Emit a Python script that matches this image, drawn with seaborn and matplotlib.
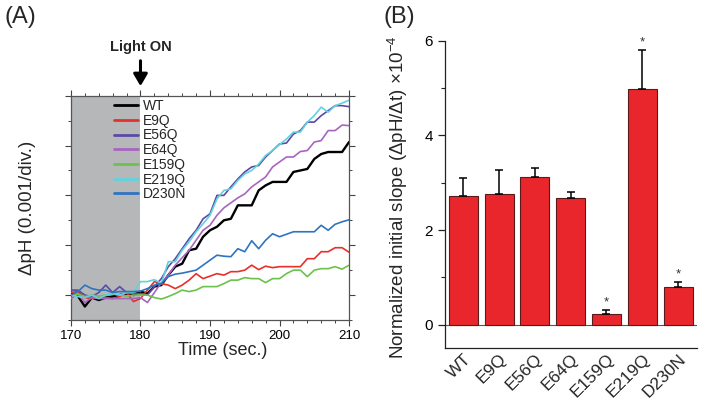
import numpy as np
import pandas as pd
import matplotlib
matplotlib.use("Agg")
import matplotlib.pyplot as plt
from matplotlib.ticker import MultipleLocator
import seaborn as sns

# ---------------- data ----------------
time_s = list(range(170, 211))

wt = [0.05, -0.02, -0.23, -0.05, -0.10, -0.05, -0.03, 0.00, 0.03, 0.00,
      0.07, 0.03, 0.17, 0.20, 0.40, 0.57, 0.63, 0.90, 0.93, 1.17,
      1.30, 1.37, 1.50, 1.53, 1.80, 1.80, 1.80, 2.10, 2.20, 2.27,
      2.27, 2.27, 2.47, 2.50, 2.53, 2.73, 2.83, 2.87, 2.87, 2.87, 3.07]
e9q = [0.05, 0.07, -0.05, -0.07, -0.05, -0.05, -0.07, -0.03, 0.05, -0.13,
       -0.07, 0.10, 0.27, 0.23, 0.20, 0.13, 0.20, 0.30, 0.43, 0.33,
       0.38, 0.43, 0.40, 0.47, 0.47, 0.50, 0.60, 0.51, 0.58, 0.55,
       0.57, 0.57, 0.57, 0.57, 0.73, 0.73, 0.87, 0.87, 0.95, 0.95, 0.86]
e56q = [0.10, 0.10, 0.00, -0.03, 0.05, 0.20, 0.05, 0.17, 0.05, 0.03,
        0.03, 0.00, 0.17, 0.33, 0.57, 0.73, 0.93, 1.13, 1.30, 1.53,
        1.63, 2.00, 2.00, 2.17, 2.33, 2.47, 2.57, 2.60, 2.77, 2.90,
        3.03, 3.05, 3.23, 3.30, 3.47, 3.47, 3.60, 3.70, 3.80, 3.80, 3.78]
e64q = [-0.07, 0.02, -0.15, -0.05, -0.07, -0.07, -0.07, -0.07, -0.07, -0.07,
        -0.05, -0.15, 0.05, 0.25, 0.40, 0.60, 0.75, 0.90, 1.10, 1.30,
        1.40, 1.60, 1.75, 1.85, 1.95, 2.03, 2.17, 2.27, 2.37, 2.57,
        2.67, 2.77, 2.77, 2.88, 2.90, 3.07, 3.10, 3.30, 3.30, 3.41, 3.40]
e159q = [0.00, 0.02, -0.03, 0.00, -0.02, 0.00, 0.02, 0.00, -0.02, 0.00,
         0.00, 0.00, -0.05, -0.08, -0.03, 0.03, 0.10, 0.07, 0.10, 0.17,
         0.17, 0.17, 0.23, 0.30, 0.30, 0.35, 0.33, 0.33, 0.25, 0.33,
         0.33, 0.43, 0.50, 0.50, 0.37, 0.50, 0.53, 0.53, 0.57, 0.52, 0.60]
e219q = [0.00, -0.03, -0.05, 0.00, -0.07, 0.00, 0.03, 0.00, 0.05, 0.05,
         0.27, 0.27, 0.31, 0.23, 0.67, 0.67, 0.90, 1.07, 1.27, 1.43,
         1.60, 1.93, 2.10, 2.13, 2.30, 2.43, 2.50, 2.63, 2.80, 2.90,
         3.02, 3.13, 3.27, 3.27, 3.47, 3.60, 3.77, 3.67, 3.80, 3.85, 3.91]
d230n = [0.00, 0.07, 0.20, 0.13, 0.10, 0.10, 0.05, 0.07, 0.07, 0.07,
         0.08, 0.13, 0.20, 0.23, 0.37, 0.42, 0.44, 0.47, 0.50, 0.60,
         0.70, 0.80, 0.78, 0.77, 0.93, 0.87, 1.09, 0.93, 1.10, 1.23,
         1.17, 1.22, 1.27, 1.27, 1.27, 1.27, 1.40, 1.30, 1.42, 1.47, 1.51]

series_names = ["WT", "E9Q", "E56Q", "E64Q", "E159Q", "E219Q", "D230N"]
series_values = [wt, e9q, e56q, e64q, e159q, e219q, d230n]
line_colors = ["#000000", "#e8302a", "#5a4aa6", "#a865c0", "#6cc24a", "#62d2de", "#2f74c0"]

mutants = ["WT", "E9Q", "E56Q", "E64Q", "E159Q", "E219Q", "D230N"]
slopes = [2.71, 2.76, 3.13, 2.67, 0.23, 4.99, 0.80]
slope_err = [0.38, 0.50, 0.18, 0.13, 0.09, 0.81, 0.11]
significant = [False, False, False, False, True, True, True]

# ---------------- style ----------------
sns.set_theme(style="white")
plt.rcParams["font.family"] = ["Liberation Sans", "DejaVu Sans"]
plt.rcParams["mathtext.fontset"] = "custom"
plt.rcParams["mathtext.rm"] = "Liberation Sans"

fig = plt.figure(figsize=(7.02, 4.00), dpi=100)
axA = fig.add_axes([0.1011, 0.200, 0.3961, 0.5608])
axB = fig.add_axes([0.6339, 0.1292, 0.3590, 0.7690])

# ---------------- panel A ----------------
rows = []
for name, vals in zip(series_names, series_values):
    for t, v in zip(time_s, vals):
        rows.append((t, v, name))
dfA = pd.DataFrame(rows, columns=["time", "dph", "mutant"])

axA.axvspan(170, 180, color="#b6b7b9", lw=0, zorder=0)
sns.lineplot(data=dfA, x="time", y="dph", hue="mutant", hue_order=series_names,
             palette=line_colors, size="mutant", sizes={n: (1.7 if n == "WT" else 1.2) for n in series_names},
             ax=axA, legend="brief", zorder=3)
axA.set_xlim(170, 210)
axA.set_ylim(-0.5, 4.0)
axA.xaxis.set_major_locator(MultipleLocator(10))
axA.xaxis.set_minor_locator(MultipleLocator(2))
axA.yaxis.set_major_locator(MultipleLocator(1))
axA.yaxis.set_minor_locator(MultipleLocator(0.5))
axA.tick_params(which="both", direction="out", top=True, right=True, bottom=True, left=True,
                labelleft=False, labeltop=False, labelright=False, colors="#444444")
axA.tick_params(which="major", length=4, width=0.8, labelsize=9.5, labelcolor="black", pad=3)
axA.tick_params(which="minor", length=2.5, width=0.7)
for sp in axA.spines.values():
    sp.set_visible(True)
    sp.set_color("#555555")
    sp.set_linewidth(0.9)
axA.set_xlabel("Time (sec.)", fontsize=13)
axA.xaxis.set_label_coords(0.545, -0.10)
axA.set_ylabel("ΔpH (0.001/div.)", fontsize=13.5)
axA.yaxis.set_label_coords(-0.125, 0.50)

handles, labels = axA.get_legend_handles_labels()
leg = axA.legend(handles, labels, loc="upper left", bbox_to_anchor=(0.155, 0.985),
                 frameon=False, fontsize=10, handlelength=1.7, handletextpad=0.35,
                 labelspacing=0.05, borderpad=0, borderaxespad=0)
for h in leg.get_lines():
    h.set_linewidth(2.0)

axA.annotate("", xy=(180, 1.03), xycoords=("data", "axes fraction"),
             xytext=(180, 1.168), textcoords=("data", "axes fraction"),
             arrowprops=dict(arrowstyle="-|>,head_width=0.35,head_length=0.6", lw=2.2, color="black"),
             annotation_clip=False)
axA.text(180, 1.185, "Light ON", transform=axA.get_xaxis_transform(), ha="center", va="bottom",
         fontsize=10.5, fontweight="bold")

# ---------------- panel B ----------------
dfB = pd.DataFrame({"mutant": mutants, "slope": slopes})
sns.barplot(data=dfB, x="mutant", y="slope", order=mutants, color="#e8262c",
            saturation=1, width=0.81, edgecolor="#5a1a1a", linewidth=0.8, ax=axB, zorder=2)
xpos = np.arange(len(mutants))
axB.errorbar(xpos, slopes, yerr=[np.zeros(len(slopes)), slope_err], fmt="none",
             ecolor="black", elinewidth=1.1, capsize=3, capthick=1.1, zorder=3)
for x, s, e, sig in zip(xpos, slopes, slope_err, significant):
    if sig:
        axB.text(x, s + e + 0.03, "*", ha="center", va="bottom", fontsize=9.5, color="#333333")
axB.axhline(0, color="#555555", lw=0.8, zorder=1)
axB.set_xlim(-0.51, 6.53)
axB.set_ylim(-0.5, 6.0)
axB.yaxis.set_major_locator(MultipleLocator(2))
axB.yaxis.set_minor_locator(MultipleLocator(1))
axB.tick_params(axis="y", which="both", direction="out", left=True, colors="#222222")
axB.tick_params(axis="y", which="major", length=5, width=0.9, labelsize=11, labelcolor="black")
axB.tick_params(axis="y", which="minor", length=3, width=0.8)
axB.tick_params(axis="x", length=0, labelsize=12.5, pad=2)
for lab in axB.get_xticklabels():
    lab.set_rotation(45)
    lab.set_ha("right")
    lab.set_rotation_mode("anchor")
for side in ["top", "right"]:
    axB.spines[side].set_visible(False)
for side in ["left", "bottom"]:
    axB.spines[side].set_color("#222222")
    axB.spines[side].set_linewidth(0.9)
axB.set_xlabel("")
axB.set_ylabel(r"Normalized initial slope (ΔpH/Δt) ×10$^{-4}$", fontsize=13.5)
axB.yaxis.set_label_coords(-0.14, 0.49)

# panel letters
fig.text(0.006, 0.985, "(A)", fontsize=17, ha="left", va="top")
fig.text(0.546, 0.985, "(B)", fontsize=17, ha="left", va="top")

fig.savefig("out.png", dpi=100)
